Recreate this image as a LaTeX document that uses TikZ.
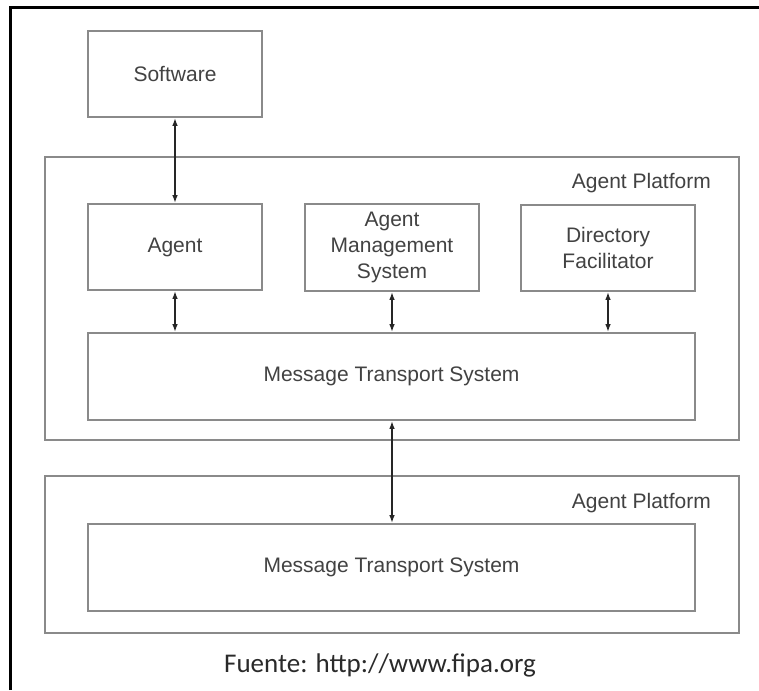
\documentclass[tikz,border=0pt]{standalone}
\usepackage{fontspec}
\setmainfont{Liberation Sans}
\newfontfamily\capfont{Carlito}
\usetikzlibrary{arrows.meta}
\definecolor{boxline}{HTML}{8A8A8A}
\definecolor{txt}{HTML}{424242}
\definecolor{captxt}{HTML}{2A2A2A}
\begin{document}
\begin{tikzpicture}[x=1pt,y=-1pt,
  box/.style={draw=boxline, line width=1.6pt, fill=none, inner sep=0pt,
    text=txt, font=\fontsize{21}{26}\selectfont, align=center},
  plat/.style={draw=boxline, line width=1.6pt, inner sep=0pt},
  platlabel/.style={text=txt, font=\fontsize{21}{26}\selectfont, inner sep=0pt, anchor=east},
  arr/.style={draw=black!85, line width=1.2pt, {Latex[length=7.5pt,width=5.5pt]}-{Latex[length=7.5pt,width=5.5pt]}, shorten <=0.5pt, shorten >=0.5pt}
]
\useasboundingbox (0,0) rectangle (759,690);
\fill[white] (0,0) rectangle (759,690);
% outer frame (left and top edges)
\coordinate (fbl) at (10.5,690);
\coordinate (ftl) at (10.5,7.5);
\coordinate (ftr) at (759,7.5);
\draw[black, line width=2.2pt] (fbl) -- (ftl) -- (ftr);

% platforms
\node[plat, minimum width=694pt, minimum height=283pt] (p1) at (392,298.5) {};
\node[plat, minimum width=694pt, minimum height=157pt] (p2) at (392,554.5) {};
\node[platlabel] (p1l) at (711,183) {Agent Platform};
\node[platlabel] (p2l) at (711,503) {Agent Platform};

% boxes
\node[box, minimum width=174pt, minimum height=86pt] (sw) at (175,74) {Software};
\node[box, minimum width=174pt, minimum height=86pt] (ag) at (175,247) {Agent};
\node[box, minimum width=174pt, minimum height=87pt] (ams) at (392,247.5) {Agent\\Management\\System};
\node[box, minimum width=174pt, minimum height=86pt] (df) at (608,248) {Directory\\Facilitator};
\node[box, minimum width=607pt, minimum height=87pt] (mts1) at (391.5,376.5) {Message Transport System};
\node[box, minimum width=607pt, minimum height=87pt] (mts2) at (391.5,567.5) {Message Transport System};

% connectors
\draw[arr] (sw.south) -- (ag.north);
\draw[arr] (ag.south) -- (ag.south |- mts1.north);
\draw[arr] (ams.south) -- (ams.south |- mts1.north);
\draw[arr] (df.south) -- (df.south |- mts1.north);
\draw[arr] (ams.south |- mts1.south) -- (ams.south |- mts2.north);

% caption
\node[text=captxt, font=\capfont\fontsize{27}{30}\selectfont, inner sep=0pt] (cap) at (380,665) {Fuente: http://www.fipa.org};
\end{tikzpicture}
\end{document}
